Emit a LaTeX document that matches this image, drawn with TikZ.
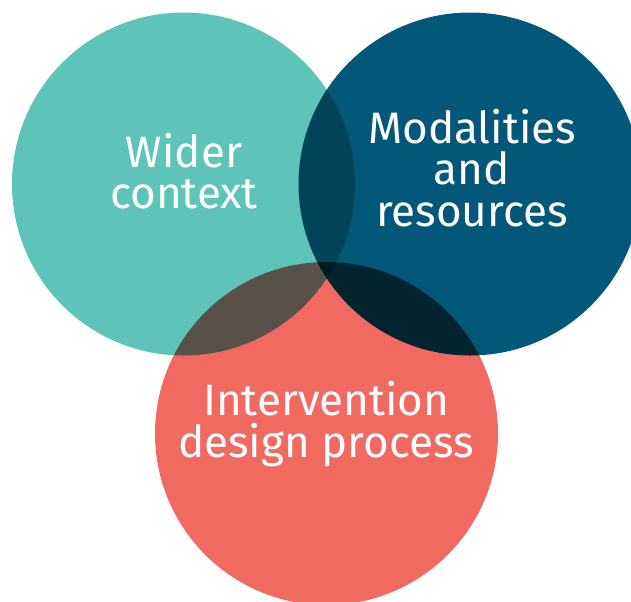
\documentclass[tikz,border=0pt]{standalone}
\usepackage{fontspec}
\setmainfont{Fira Sans}
\usetikzlibrary{positioning}

\definecolor{tealc}{RGB}{94,196,185}
\definecolor{bluec}{RGB}{3,88,122}
\definecolor{coralc}{RGB}{240,106,98}

\tikzset{
  disc/.style={blend mode=multiply, draw=none},
  label/.style={text=white, align=center, inner sep=0pt,
    font=\fontsize{33}{31}\selectfont}
}

\begin{document}
\begin{tikzpicture}[x=0.75pt,y=0.75pt,yscale=-1,xscale=1]
\useasboundingbox (0,0) rectangle (631,601);

% Shape: Circle (wider context)
\fill[disc, tealc] (183.5,184) circle (171.5);
% Shape: Circle (modalities)
\fill[disc, bluec] (470,184) circle (171.5);
% Shape: Circle (design process)
\fill[disc, coralc] (326.5,433.5) circle (171.5);

% Text Node
\node[label] (wider) at (184,171) {Wider\\context};
% Text Node
\node[label] (modal) at (472,168) {Modalities\\and\\resources};
% Text Node
\node[label] (design) at (326,424) {Intervention\\design process};

\end{tikzpicture}
\end{document}
